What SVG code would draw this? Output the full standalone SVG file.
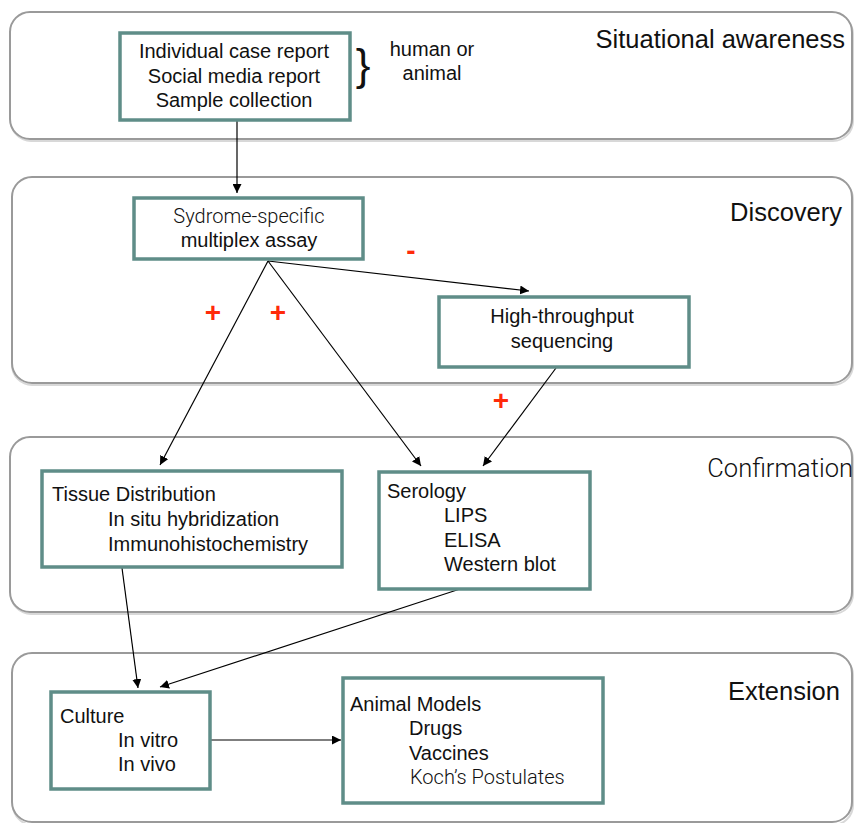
<svg xmlns="http://www.w3.org/2000/svg" width="854" height="823" viewBox="0 0 854 823">
<defs>
<style>
.panel{fill:#fff;stroke:#9a9a9a;stroke-width:2}
.shadow{fill:none;stroke:#d8d8d8;stroke-width:2}
.box{fill:#fff;stroke:#5f8d88;stroke-width:3.5}
text{font-family:"Liberation Sans",Arial,sans-serif;fill:#111}
.t{font-size:20px}
.c{text-anchor:middle}
.light{font-family:Roboto,"Liberation Sans",sans-serif;font-weight:300;fill:#111}
.stage{font-size:25.5px;text-anchor:end}
.sign{font-size:28px;font-weight:bold;fill:#ff2a0a;text-anchor:middle}
.conn line{stroke:#000;stroke-width:1.2}
</style>
<marker id="ah" viewBox="0 0 10 10" refX="10" refY="5" markerWidth="9" markerHeight="9" markerUnits="userSpaceOnUse" orient="auto">
<path d="M0,0 L10,5 L0,10 z" fill="#000"/>
</marker>
</defs>
<rect width="854" height="823" fill="#fff"/>

<g id="panels">
<rect class="shadow" x="11" y="14" width="842" height="127" rx="20"/>
<rect class="panel" x="10" y="12" width="842" height="127" rx="20"/>
<rect class="shadow" x="12" y="179" width="841" height="206" rx="20"/>
<rect class="panel" x="12" y="177" width="840" height="206" rx="20"/>
<rect class="shadow" x="11" y="439" width="842" height="175" rx="20"/>
<rect class="panel" x="10" y="437" width="842" height="175" rx="20"/>
<rect class="shadow" x="13" y="655" width="840" height="170" rx="20"/>
<rect class="panel" x="12" y="653" width="840" height="169" rx="20"/>
</g>

<g id="stage-labels">
<text class="stage" x="845" y="48">Situational awareness</text>
<text class="stage" x="842" y="221">Discovery</text>
<text class="stage light" x="853" y="477">Confirmation</text>
<text class="stage" x="840" y="700">Extension</text>
</g>

<g id="connectors" class="conn">
<line x1="237" y1="120" x2="237" y2="193" marker-end="url(#ah)"/>
<line x1="268" y1="261" x2="529" y2="291" marker-end="url(#ah)"/>
<line x1="268" y1="261" x2="160" y2="465" marker-end="url(#ah)"/>
<line x1="268" y1="261" x2="421" y2="466" marker-end="url(#ah)"/>
<line x1="556" y1="368" x2="483" y2="466" marker-end="url(#ah)"/>
<line x1="122" y1="568" x2="138" y2="688" marker-end="url(#ah)"/>
<line x1="460" y1="589" x2="160" y2="687" marker-end="url(#ah)"/>
<line x1="210" y1="740" x2="341" y2="740" marker-end="url(#ah)"/>
</g>

<g id="signs">
<text class="sign" x="411" y="260">-</text>
<text class="sign" x="213" y="322">+</text>
<text class="sign" x="278" y="322">+</text>
<text class="sign" x="501" y="410">+</text>
</g>

<g id="reports">
<rect class="box" x="120" y="33" width="230" height="87"/>
<text class="t c" x="234" y="58">Individual case report</text>
<text class="t c" x="234" y="83">Social media report</text>
<text class="t c" x="234" y="107">Sample collection</text>
</g>

<g id="human-animal">
<text x="363" y="80" font-size="44" text-anchor="middle">}</text>
<text class="c" x="432" y="56" font-size="20">human or</text>
<text class="c" x="432" y="80" font-size="20">animal</text>
</g>

<g id="multiplex">
<rect class="box" x="134" y="198" width="229" height="61"/>
<text class="t c light" x="249" y="223">Sydrome-specific</text>
<text class="t c" x="249" y="247">multiplex assay</text>
</g>

<g id="hts">
<rect class="box" x="439" y="297" width="250" height="70"/>
<text class="t c" x="562" y="323">High-throughput</text>
<text class="t c" x="562" y="348">sequencing</text>
</g>

<g id="tissue">
<rect class="box" x="42" y="471" width="300" height="96"/>
<text class="t" x="52" y="501">Tissue Distribution</text>
<text class="t" x="108" y="526">In situ hybridization</text>
<text class="t" x="108" y="551">Immunohistochemistry</text>
</g>

<g id="serology">
<rect class="box" x="379" y="472" width="211" height="117"/>
<text class="t" x="387" y="498">Serology</text>
<text class="t" x="444" y="522">LIPS</text>
<text class="t" x="444" y="547">ELISA</text>
<text class="t" x="444" y="571">Western blot</text>
</g>

<g id="culture">
<rect class="box" x="51" y="692" width="159" height="97"/>
<text class="t" x="60" y="723">Culture</text>
<text class="t" x="118" y="747">In vitro</text>
<text class="t" x="118" y="771">In vivo</text>
</g>

<g id="animal">
<rect class="box" x="343" y="678" width="260" height="125"/>
<text class="t" x="350" y="711">Animal Models</text>
<text class="t" x="409" y="735">Drugs</text>
<text class="t" x="409" y="760">Vaccines</text>
<text class="t light" x="410" y="784">Koch’s Postulates</text>
</g>
</svg>
